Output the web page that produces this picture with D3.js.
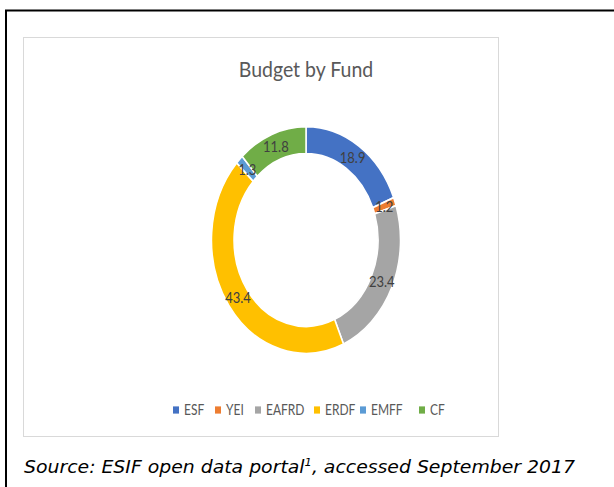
<!DOCTYPE html>
<html>
<head>
<meta charset="utf-8">
<script src="https://cdn.jsdelivr.net/npm/d3@7"></script>
<style>
  body { margin: 0; background: #fff; }
  svg { display: block; }
</style>
</head>
<body>
<div id="chart"></div>
<script>
const funds = ["ESF", "YEI", "EAFRD", "ERDF", "EMFF", "CF"];
const budgetShares = [18.9, 1.2, 23.4, 43.4, 1.3, 11.8];
const fundColors = ["#4472C4", "#ED7D31", "#A5A5A5", "#FFC000", "#5B9BD5", "#70AD47"];

const width = 614, height = 487;
const cx = 306, cy = 240;
const outerR = 94.5, innerR = 72, stretchY = 1.2;
const font = "Lato, 'Open Sans', sans-serif";

const svg = d3.select("#chart").append("svg")
  .attr("width", width)
  .attr("height", height);

// outer frame (only top and left edges show)
svg.append("path")
  .attr("d", `M6,${height} V10.5 H${width}`)
  .attr("fill", "none")
  .attr("stroke", "#000")
  .attr("stroke-width", 2);

// chart area box
svg.append("rect")
  .attr("x", 23.5).attr("y", 37.5)
  .attr("width", 475).attr("height", 399)
  .attr("fill", "#fff")
  .attr("stroke", "#d9d9d9")
  .attr("stroke-width", 1);

svg.append("text")
  .attr("transform", `translate(${cx},77) scale(1,1.1)`)
  .attr("text-anchor", "middle")
  .attr("font-family", font)
  .attr("font-size", 19.5)
  .attr("fill", "#595959")
  .text("Budget by Fund");

const data = funds.map((f, i) => ({ fund: f, value: budgetShares[i], color: fundColors[i] }));

const pie = d3.pie().value(d => d.value).sort(null);
const arc = d3.arc().innerRadius(innerR).outerRadius(outerR);
const arcs = pie(data);

const g = svg.append("g")
  .attr("transform", `translate(${cx},${cy}) scale(1,${stretchY})`);

g.selectAll(".slice")
  .data(arcs)
  .enter().append("path")
  .attr("class", "slice")
  .attr("d", arc)
  .attr("fill", d => d.data.color)
  .attr("stroke", "#fff")
  .attr("stroke-width", 1.5);

g.selectAll(".label")
  .data(arcs)
  .enter().append("text")
  .attr("class", "label")
  .attr("transform", d => {
    const [x, y] = arc.centroid(d);
    return `translate(${x},${y})`;
  })
  .attr("text-anchor", "middle")
  .attr("dy", "0.35em")
  .attr("font-family", font)
  .attr("font-size", 13)
  .attr("fill", "#404040")
  .text(d => d.data.value.toFixed(1));

// legend
const legendPos = { ESF: 176, YEI: 218, EAFRD: 258, ERDF: 317, EMFF: 363, CF: 422 };
const items = svg.append("g").attr("class", "legend")
  .selectAll(".item")
  .data(data)
  .enter().append("g")
  .attr("class", "item")
  .attr("transform", d => `translate(${legendPos[d.fund]},410) scale(1,${stretchY})`);

items.append("rect")
  .attr("x", -3).attr("y", -3)
  .attr("width", 6).attr("height", 6)
  .attr("fill", d => d.color);

items.append("text")
  .attr("x", 8).attr("dy", "0.35em")
  .attr("font-family", font)
  .attr("font-size", 12)
  .attr("fill", "#595959")
  .text(d => d.fund);

// source note
const note = svg.append("text")
  .attr("x", 24).attr("y", 473)
  .attr("font-family", "'DejaVu Sans', Verdana, sans-serif")
  .attr("font-style", "italic")
  .attr("font-size", 18)
  .attr("textLength", 551)
  .attr("lengthAdjust", "spacingAndGlyphs")
  .attr("fill", "#000");
note.append("tspan").text("Source: ESIF open data portal");
note.append("tspan").attr("font-size", 11).attr("dy", -7).text("1");
note.append("tspan").attr("dy", 7).text(", accessed September 2017");
</script>
</body>
</html>
